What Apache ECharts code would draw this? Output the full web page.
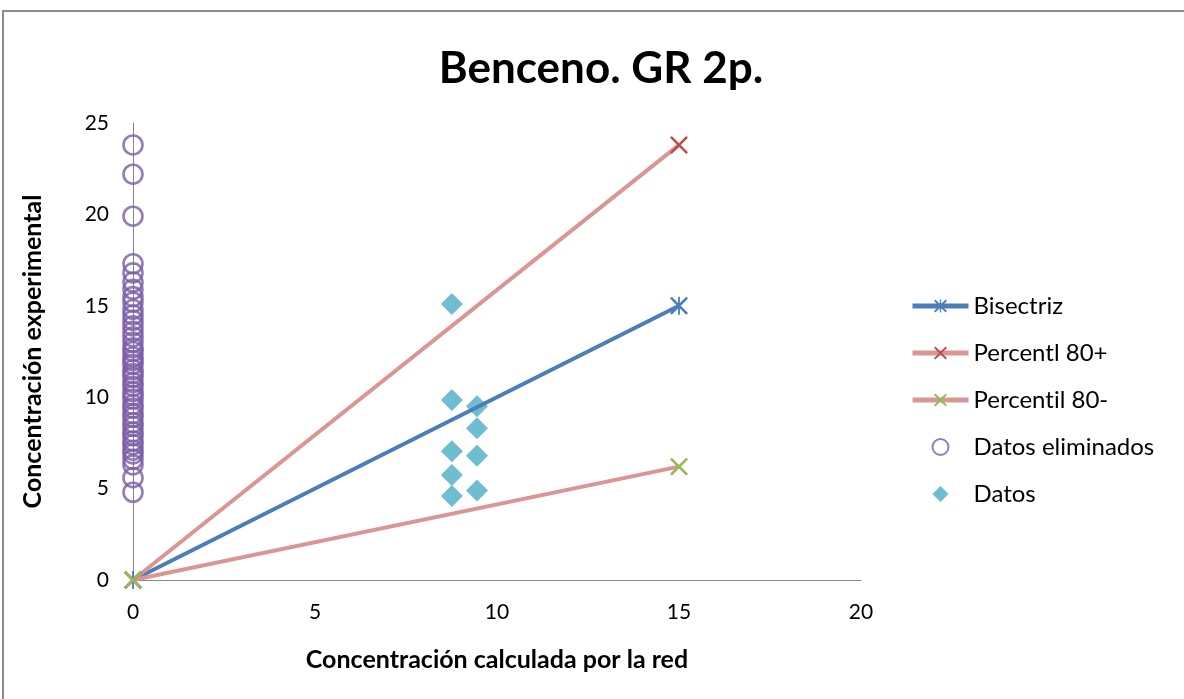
<!DOCTYPE html>
<html>
<head>
<meta charset="utf-8">
<script src="https://cdn.jsdelivr.net/npm/echarts@6/dist/echarts.min.js"></script>
<style>
  html, body { margin: 0; padding: 0; background: #fff; }
  #chart { width: 1184px; height: 699px; }
</style>
</head>
<body>
<div id="chart"></div>
<script>
// reference lines (end points)
var lineX = [0, 15];
var bisectrizY = [0, 15];
var perc80PlusY = [0, 23.8];
var perc80MinusY = [0, 6.2];

// eliminated data, all at x = 0
var eliminadosY = [23.8, 22.2, 19.9, 17.3, 16.8, 16.3, 15.9, 15.5, 15.2, 14.8, 14.5, 14.2, 13.9, 13.6,
  13.3, 13.0, 12.7, 12.5, 12.2, 12.0, 11.8, 11.5, 11.3, 11.1, 10.8, 10.6, 10.3, 10.1, 9.9, 9.6,
  9.4, 9.1, 8.9, 8.6, 8.4, 8.1, 7.9, 7.6, 7.4, 7.1, 6.9, 6.6, 6.3, 5.6, 4.8];

// kept data
var datosX = [8.76, 8.76, 9.45, 9.45, 8.76, 9.45, 8.76, 8.76, 9.45];
var datosY = [15.1, 9.85, 9.5, 8.3, 7.05, 6.8, 5.75, 4.6, 4.9];

var xTicks = [0, 5, 10, 15, 20];
var yTicks = [0, 5, 10, 15, 20, 25];

// series names (zero-width non-joiner keeps Lato from joining "ti")
var names = ['Bisectriz', 'Percentl 80+', 'Percent\u200Cil 80-', 'Datos eliminados', 'Datos'];

function pairs(xs, ys) {
  return ys.map(function (y, i) { return [xs.length === 1 ? xs[0] : xs[i], y]; });
}

var crossPath = 'path://M0,1 L1,0 L10,9 L9,10 Z M9,0 L10,1 L1,10 L0,9 Z';
var starPath = 'path://M0,1 L1,0 L10,9 L9,10 Z M9,0 L10,1 L1,10 L0,9 Z M4.5,0 L5.5,0 L5.5,10 L4.5,10 Z';
var diamondPath = 'path://M5,0 L10,5 L5,10 L0,5 Z';
var font = 'Lato, "Liberation Sans", sans-serif';

var chart = echarts.init(document.getElementById('chart'));
chart.setOption({
  animation: false,
  backgroundColor: '#fff',
  textStyle: { fontFamily: font },
  title: {
    text: 'Benceno. GR 2p.',
    left: 596, top: 42, textAlign: 'center',
    textStyle: { fontSize: 44, fontWeight: 'bold', color: '#000', fontFamily: font }
  },
  graphic: [{
    type: 'polyline',
    shape: { points: [[3, 699], [3, 11], [1184, 11]] },
    style: { stroke: '#8a8a8a', lineWidth: 2, fill: null }
  }],
  grid: { left: 133, right: 323, top: 123, bottom: 119 },
  legend: {
    orient: 'vertical', left: 905, top: 289,
    itemWidth: 56, itemHeight: 16, itemGap: 23,
    symbolKeepAspect: true,
    lineStyle: { width: 5 },
    textStyle: { fontSize: 24, color: '#000', fontFamily: font, lineHeight: 24 },
    data: names
  },
  xAxis: {
    type: 'value', min: 0, max: 20, interval: 5,
    name: 'Concentración calculada por la red', nameLocation: 'middle', nameGap: 67,
    nameTextStyle: { fontSize: 25, fontWeight: 'bold', color: '#000', fontFamily: font },
    axisLine: { lineStyle: { color: '#868686', width: 1 } },
    axisTick: { show: false },
    axisLabel: { fontSize: 21, color: '#000', margin: 22,
      formatter: function (v) { return xTicks.indexOf(v) >= 0 ? String(v) : ''; } },
    splitLine: { show: false }
  },
  yAxis: {
    type: 'value', min: 0, max: 25, interval: 5,
    name: 'Concentración experimental', nameLocation: 'middle', nameGap: 88,
    nameTextStyle: { fontSize: 25, fontWeight: 'bold', color: '#000', fontFamily: font },
    axisLine: { show: true, lineStyle: { color: '#868686', width: 1 } },
    axisTick: { show: false },
    axisLabel: { fontSize: 21, color: '#000', margin: 24,
      formatter: function (v) { return yTicks.indexOf(v) >= 0 ? String(v) : ''; } },
    splitLine: { show: false }
  },
  series: [
    {
      name: names[0], type: 'line', data: pairs(lineX, bisectrizY),
      lineStyle: { color: '#4a7ebb', width: 4 },
      symbol: starPath, symbolSize: 18,
      itemStyle: { color: '#4a7ebb' }
    },
    {
      name: names[1], type: 'line', data: pairs(lineX, perc80PlusY),
      lineStyle: { color: '#d99694', width: 4 },
      symbol: crossPath, symbolSize: 18,
      itemStyle: { color: '#be4b48' }
    },
    {
      name: names[2], type: 'line', data: pairs(lineX, perc80MinusY),
      lineStyle: { color: '#d99694', width: 4 },
      symbol: crossPath, symbolSize: 18,
      itemStyle: { color: '#98b954' }
    },
    {
      name: names[3], type: 'scatter', data: pairs([0], eliminadosY),
      symbol: 'circle', symbolSize: 19,
      itemStyle: { color: 'rgba(0,0,0,0)', borderColor: '#7a5ca6', borderWidth: 2.6 }
    },
    {
      name: names[4], type: 'scatter', data: pairs(datosX, datosY),
      symbol: diamondPath, symbolSize: 22, symbolKeepAspect: true,
      itemStyle: { color: '#4bacc6' }
    }
  ]
});
</script>
</body>
</html>
